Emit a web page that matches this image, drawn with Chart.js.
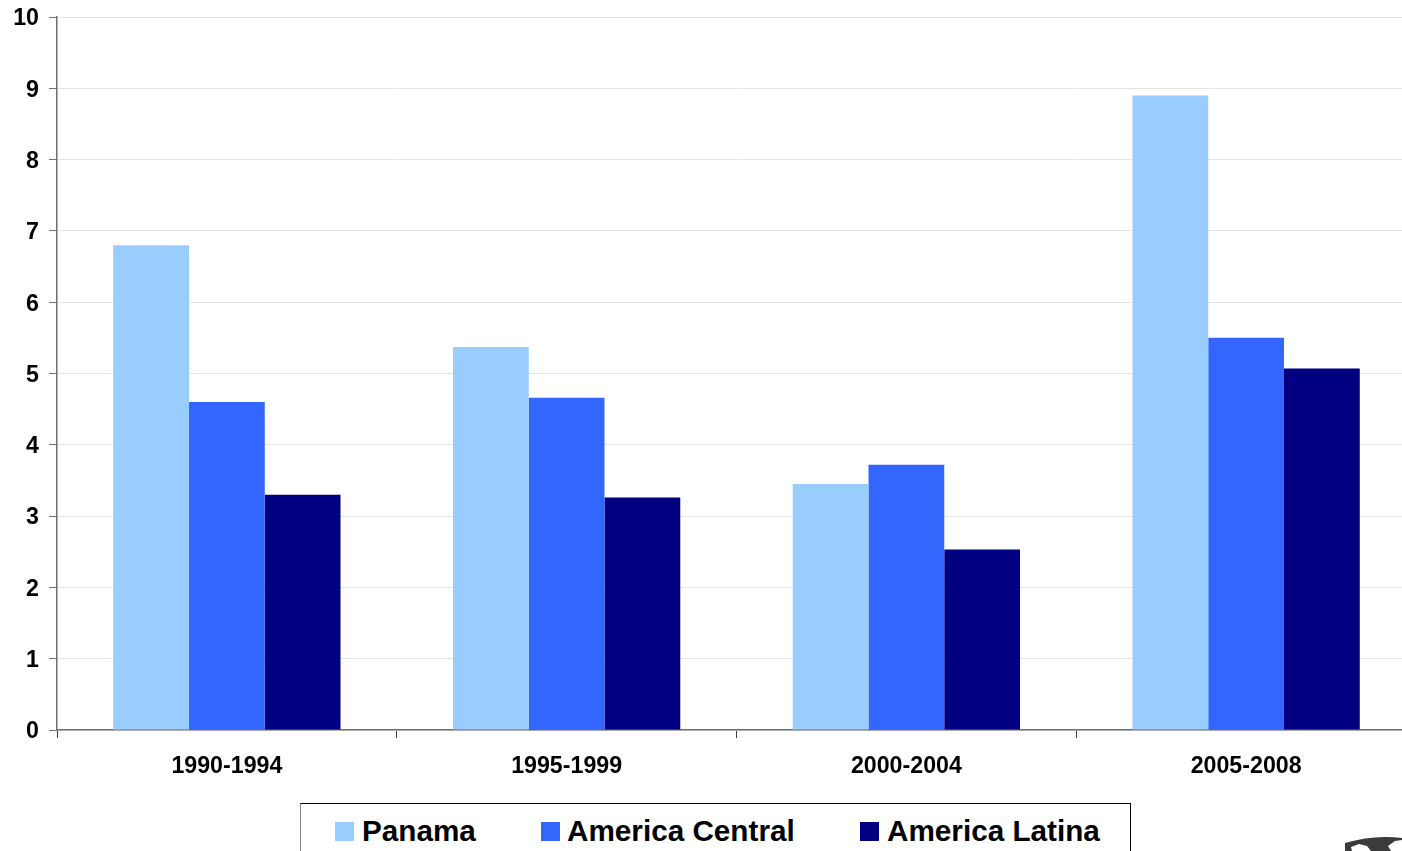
<!DOCTYPE html>
<html>
<head>
<meta charset="utf-8">
<script src="https://cdn.jsdelivr.net/npm/chart.js@4/dist/chart.umd.min.js"></script>
<style>
html, body { margin: 0; padding: 0; width: 1402px; height: 851px; overflow: hidden; background: #fff; }
#wrap { position: relative; width: 1402px; height: 851px; overflow: hidden; }
#chart { position: absolute; left: 0; top: 0; }
#legend {
    position: absolute; left: 300px; top: 803px; width: 829px; height: 60px;
    border: 1px solid #000; border-left-color: #808080; background: #fff;
    font: bold 29.7px "Liberation Sans", Arial, sans-serif; color: #000;
}
#legend span.item { position: absolute; top: 9px; line-height: 36px; white-space: nowrap; }
#legend i { position: absolute; top: 18px; width: 19px; height: 19px; }
#globe { position: absolute; left: 1345px; top: 837px; }
</style>
</head>
<body>
<div id="wrap">
<canvas id="chart" width="1420" height="851"></canvas>
<div id="legend"></div>
<svg id="globe" width="57" height="14" viewBox="0 0 57 14">
  <path d="M0 14 L0 6 Q20 0 40 0 Q50 0 57 1 L57 3 L50 4 L43 9 L46 14 L26 14 L22 9 L14 7 L6 10 L7 14 Z" fill="#3c3a3c"/>
</svg>
</div>
<script>
const categories = ['1990-1994', '1995-1999', '2000-2004', '2005-2008'];
const panama = [6.8, 5.37, 3.45, 8.9];
const americaCentral = [4.6, 4.66, 3.72, 5.5];
const americaLatina = [3.3, 3.26, 2.53, 5.07];

const seriesNames = ['Panama', 'America Central', 'America Latina'];
const seriesColors = ['#99ccff', '#3366ff', '#000080'];
const tickFont = { family: '"Liberation Sans", Arial, sans-serif', size: 23.2, weight: 'bold' };

const chart = new Chart(document.getElementById('chart'), {
    type: 'bar',
    data: {
        labels: categories,
        datasets: [panama, americaCentral, americaLatina].map((values, i) => ({
            label: seriesNames[i],
            data: values,
            backgroundColor: seriesColors[i],
            categoryPercentage: 0.669,
            barPercentage: 1
        }))
    },
    options: {
        responsive: false,
        animation: false,
        layout: { padding: { top: 17, right: 4 } },
        plugins: { legend: { display: false }, tooltip: { enabled: false } },
        scales: {
            x: {
                afterFit: scale => { scale.height = 121; },
                border: { color: '#707070', width: 1.5 },
                grid: { drawOnChartArea: false, tickColor: '#404040', tickLength: 8 },
                ticks: { color: '#000', font: tickFont, padding: 15, maxRotation: 0 }
            },
            y: {
                min: 0,
                max: 10,
                afterFit: scale => {
                    scale.width = 57;
                    // labels overhang the top, don't let that push the plot down
                    scale.paddingTop = 0;
                    scale.paddingBottom = 0;
                },
                border: { color: '#707070', width: 1.5 },
                grid: { color: '#e4e4e4', tickColor: '#707070', tickLength: 8 },
                ticks: { color: '#000', font: tickFont, stepSize: 1, padding: 10, labelOffset: 2 }
            }
        }
    }
});

// legend box is html, the spacing in the original is not even
const legendText = [362, 567, 887];
const legendSwatch = [335, 541, 860];
const legend = document.getElementById('legend');
seriesNames.forEach((name, i) => {
    const swatch = document.createElement('i');
    swatch.style.left = (legendSwatch[i] - 301) + 'px';
    swatch.style.background = seriesColors[i];
    legend.appendChild(swatch);
    const text = document.createElement('span');
    text.className = 'item';
    text.style.left = (legendText[i] - 301) + 'px';
    text.textContent = name;
    legend.appendChild(text);
});
</script>
</body>
</html>
